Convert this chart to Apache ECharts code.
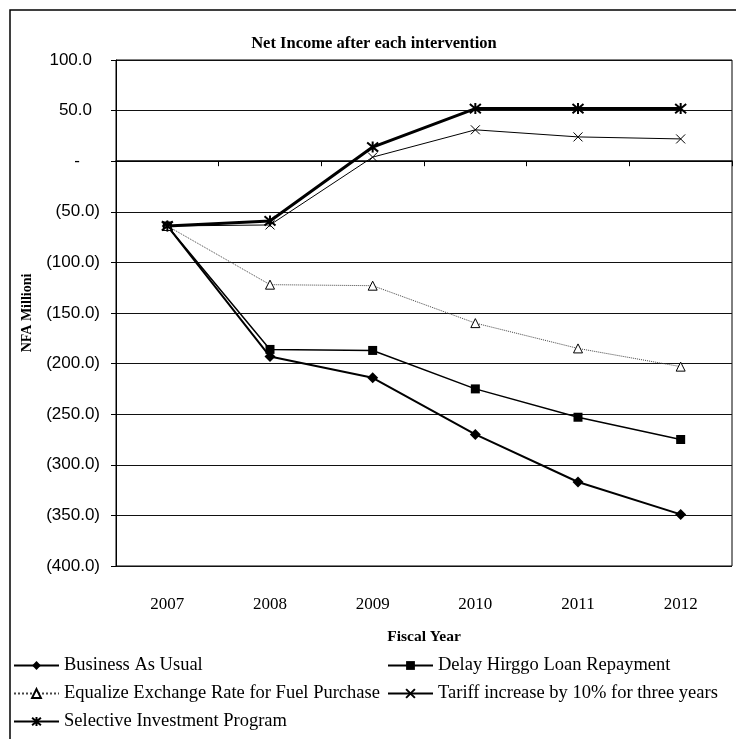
<!DOCTYPE html>
<html>
<head>
<meta charset="utf-8">
<script src="https://cdn.jsdelivr.net/npm/echarts@6/dist/echarts.min.js"></script>
<style>
html,body{margin:0;padding:0;background:#fff;}
#chart{width:736px;height:739px;}
</style>
</head>
<body>
<div id="chart"></div>
<script>
const years = ['2007', '2008', '2009', '2010', '2011', '2012'];
const businessAsUsual = [-64, -193, -214, -270, -317, -349];
const delayLoan = [-64, -186, -187, -225, -253, -275];
const equalizeRate = [-64, -122, -123, -160, -185, -203];
const tariffIncrease = [-64, -63, 4, 31, 24, 22];
const selectiveInvestment = [-64, -59, 14, 52, 52, 52];
const seriesNames = [
  'Business As Usual',
  'Delay Hirggo Loan Repayment',
  'Equalize Exchange Rate for Fuel Purchase',
  'Tariff increase by 10% for three years',
  'Selective Investment Program'
];

const serif = '"Liberation Serif", "Times New Roman", serif';
const sans = '"Liberation Sans", Arial, sans-serif';
const xSym = 'path://M0,0L10,10M10,0L0,10';
const starSym = 'path://M0,0L10,10M10,0L0,10M5,-1L5,11';

const chart = echarts.init(document.getElementById('chart'), null, {renderer: 'canvas'});
chart.setOption({
  backgroundColor: '#fff',
  animation: false,
  title: {
    text: 'Net Income after each intervention',
    left: 369, textAlign: 'center', top: 30,
    textStyle: {fontFamily: serif, fontWeight: 'bold', fontSize: 16.5, color: '#000'}
  },
  grid: {left: 116, right: 4, top: 60, bottom: 173, show: true, borderColor: '#000', borderWidth: 1},
  xAxis: [{
    type: 'category', data: years, position: 'bottom',
    axisLine: {show: false, onZero: false}, axisTick: {show: false},
    axisLabel: {fontFamily: serif, fontSize: 17, color: '#000', margin: 30},
    name: 'Fiscal Year', nameLocation: 'middle', nameGap: 63,
    nameTextStyle: {fontFamily: serif, fontWeight: 'bold', fontSize: 15.5, color: '#000'}
  }, {
    type: 'category', data: years, position: 'bottom',
    axisLine: {show: true, onZero: true, lineStyle: {color: '#000', width: 1.5}},
    axisTick: {show: true, length: 5, lineStyle: {color: '#000'}},
    axisLabel: {show: false}
  }],
  yAxis: {
    type: 'value', min: -400, max: 100, interval: 50,
    axisLine: {show: true, lineStyle: {color: '#000', width: 1}},
    axisTick: {show: true, length: 5, lineStyle: {color: '#000'}},
    splitLine: {show: true, lineStyle: {color: '#111', width: 1}},
    axisLabel: {
      fontFamily: sans, fontSize: 17, color: '#000', margin: 16,
      formatter: v => v === 0 ? '{z|-}' : (v < 0 ? '(' + (-v).toFixed(1) + ')' : '{p|' + v.toFixed(1) + '}'),
      rich: {
        p: {fontFamily: sans, fontSize: 17, color: '#000', padding: [0, 8, 0, 0]},
        z: {fontFamily: sans, fontSize: 17, color: '#000', padding: [0, 20, 0, 0]}
      }
    },
    name: 'NFA Millioni', nameLocation: 'middle', nameGap: 82,
    nameTextStyle: {fontFamily: serif, fontWeight: 'bold', fontSize: 14, color: '#000'}
  },
  legend: [{
    data: [seriesNames[0], seriesNames[2], seriesNames[4]],
    orient: 'vertical', left: 13, top: 656, padding: 0, itemWidth: 45, itemHeight: 11, itemGap: 9,
    textStyle: {fontFamily: serif, fontSize: 18.5, color: '#000'}
  }, {
    data: [seriesNames[1], seriesNames[3]],
    orient: 'vertical', left: 387, top: 656, padding: 0, itemWidth: 45, itemHeight: 11, itemGap: 9,
    textStyle: {fontFamily: serif, fontSize: 18.5, color: '#000'}
  }],
  series: [{
    name: seriesNames[0], type: 'line', data: businessAsUsual,
    symbol: 'diamond', symbolSize: 11,
    lineStyle: {color: '#000', width: 2}, itemStyle: {color: '#000'}
  }, {
    name: seriesNames[1], type: 'line', data: delayLoan,
    symbol: 'rect', symbolSize: 9,
    lineStyle: {color: '#000', width: 1.5}, itemStyle: {color: '#000'}
  }, {
    name: seriesNames[2], type: 'line', data: equalizeRate,
    symbol: 'triangle', symbolSize: 9,
    lineStyle: {color: '#444', width: 1, type: 'dotted'},
    itemStyle: {color: '#fff', borderColor: '#000', borderWidth: 1}
  }, {
    name: seriesNames[3], type: 'line', data: tariffIncrease,
    symbol: xSym, symbolSize: 9,
    lineStyle: {color: '#000', width: 1},
    itemStyle: {color: 'rgba(0,0,0,0)', borderColor: '#000', borderWidth: 1}
  }, {
    name: seriesNames[4], type: 'line', data: selectiveInvestment,
    symbol: starSym, symbolSize: 11,
    lineStyle: {color: '#000', width: 3},
    itemStyle: {color: 'rgba(0,0,0,0)', borderColor: '#000', borderWidth: 2}
  }],
  graphic: [{
    type: 'polyline', silent: true,
    shape: {points: [[10, 739], [10, 10], [736, 10]]},
    style: {stroke: '#000', lineWidth: 1.5, fill: null}
  }]
});
</script>
</body>
</html>
